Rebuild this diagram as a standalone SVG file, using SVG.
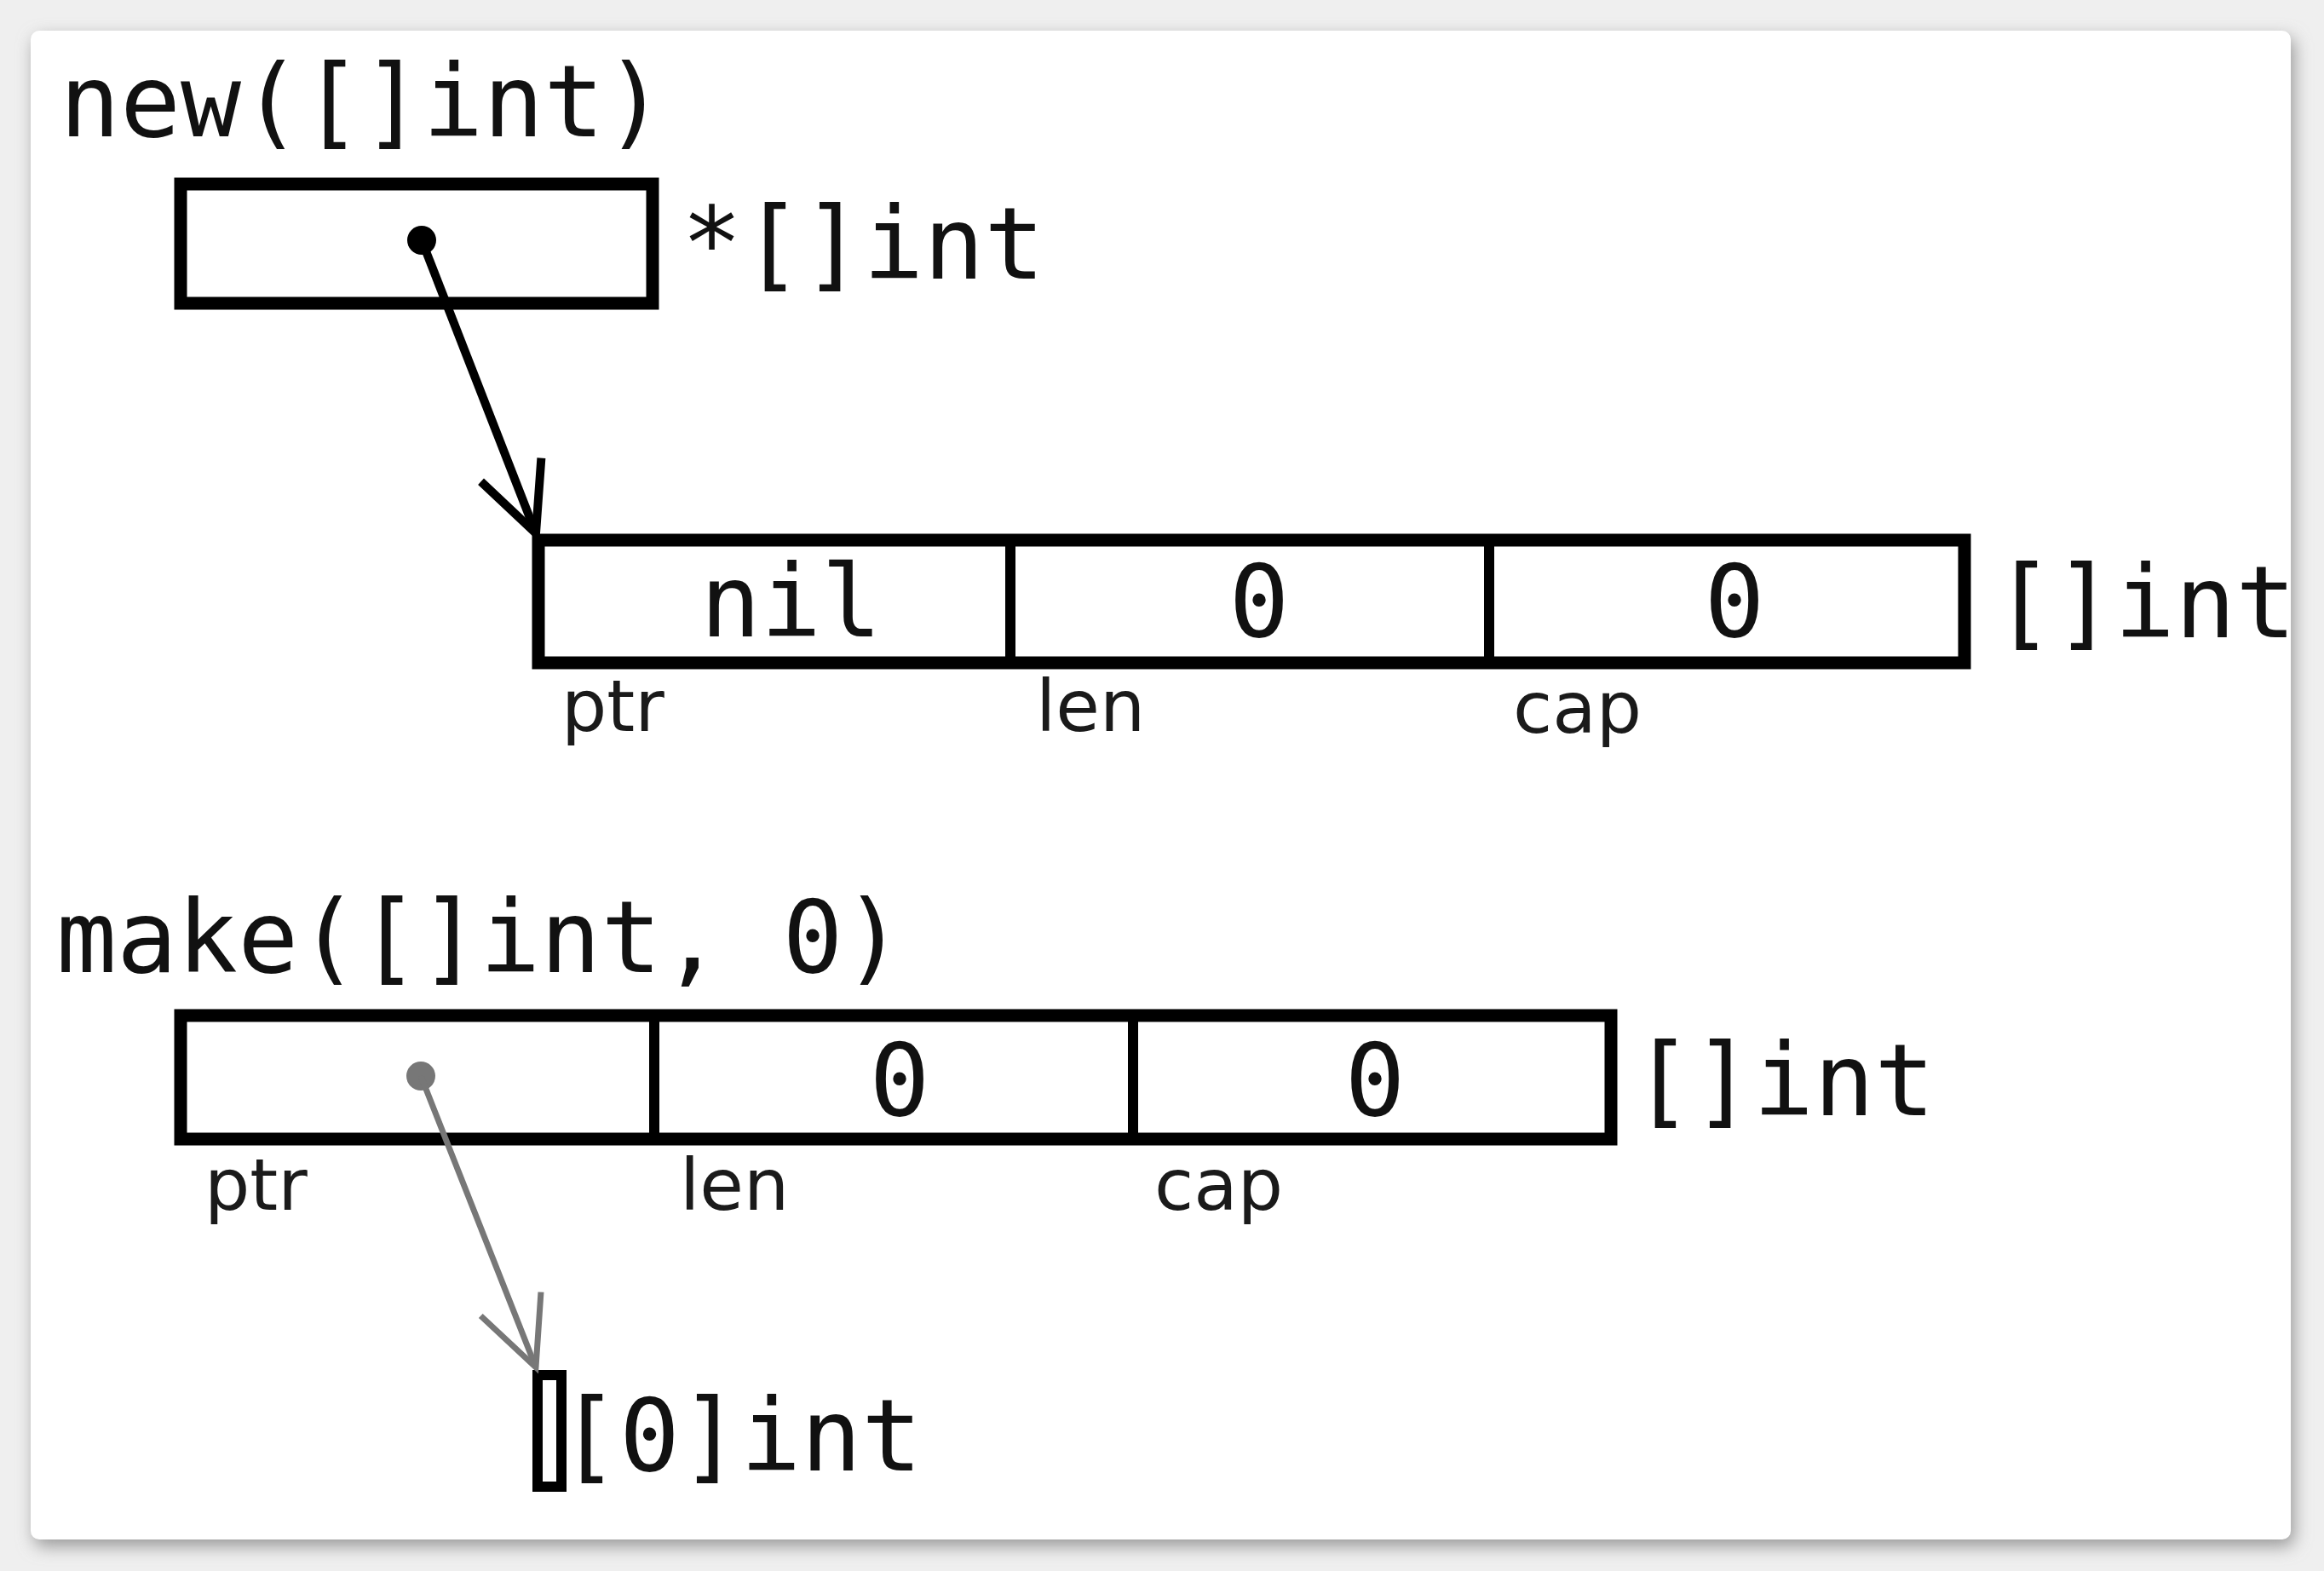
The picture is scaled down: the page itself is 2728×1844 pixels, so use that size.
<svg xmlns="http://www.w3.org/2000/svg" width="2728" height="1844" viewBox="0 0 2728 1844">
<style>
.code{font-family:"DejaVu Sans Mono","Liberation Mono",monospace;font-size:118px;fill:#111}
.lbl{font-family:"DejaVu Sans","Liberation Sans",sans-serif;font-size:84px;fill:#1a1a1a}
.box{fill:#fff;stroke:#000;stroke-width:15}
.div{stroke:#000;stroke-width:12}
</style>
<defs>
<filter id="sh" x="-5%" y="-5%" width="110%" height="110%">
<feGaussianBlur stdDeviation="10"/>
</filter>
<marker id="vb" markerUnits="userSpaceOnUse" markerWidth="200" markerHeight="200" viewBox="-100 -100 200 200" refX="0" refY="0" orient="auto" overflow="visible">
<path d="M-80,-38 L0,0 L-80,38" fill="none" stroke="#000" stroke-width="10"/>
</marker>
<marker id="vg" markerUnits="userSpaceOnUse" markerWidth="200" markerHeight="200" viewBox="-100 -100 200 200" refX="0" refY="0" orient="auto" overflow="visible">
<path d="M-80,-38 L0,0 L-80,38" fill="none" stroke="#777" stroke-width="7"/>
</marker>
</defs>
<rect x="0" y="0" width="2728" height="1844" fill="#efefef"/>
<rect x="40" y="44" width="2653" height="1771" rx="10" fill="#999" filter="url(#sh)"/>
<rect x="36" y="36" width="2653" height="1771" rx="10" fill="#fff"/>

<g id="title-new"><text class="code" x="70" y="160">new([]int)</text></g>

<g id="ptr-new">
<rect class="box" x="212" y="216" width="554" height="140"/>
<text class="code" x="800" y="327">*[]int</text>
</g>

<g id="slice-new">
<rect class="box" x="632" y="634" width="1674" height="144"/>
<line class="div" x1="1186" y1="634" x2="1186" y2="778"/>
<line class="div" x1="1748" y1="634" x2="1748" y2="778"/>
<text class="code" x="822" y="747">nil</text>
<text class="code" x="1478" y="747" text-anchor="middle">0</text>
<text class="code" x="2036" y="747" text-anchor="middle">0</text>
<text class="code" x="2340" y="748">[]int</text>
<text class="lbl" x="659" y="858">ptr</text>
<text class="lbl" x="1216" y="858">len</text>
<text class="lbl" x="1776" y="860">cap</text>
</g>

<g id="title-make"><text class="code" x="66" y="1141">make([]int, 0)</text></g>

<g id="slice-make">
<rect class="box" x="212" y="1192" width="1679" height="145"/>
<line class="div" x1="768" y1="1192" x2="768" y2="1337"/>
<line class="div" x1="1330" y1="1192" x2="1330" y2="1337"/>
<text class="code" x="1056" y="1309" text-anchor="middle">0</text>
<text class="code" x="1614" y="1309" text-anchor="middle">0</text>
<text class="code" x="1916" y="1309">[]int</text>
<text class="lbl" x="240" y="1420">ptr</text>
<text class="lbl" x="798" y="1420">len</text>
<text class="lbl" x="1355" y="1420">cap</text>
</g>

<g id="array-0">
<rect x="631" y="1614" width="28" height="131" fill="#fff" stroke="#000" stroke-width="12"/>
<text class="code" x="656" y="1726">[0]int</text>
</g>

<g id="connectors">
<circle cx="495" cy="282" r="17" fill="#000"/>
<line x1="495" y1="282" x2="629" y2="626" stroke="#000" stroke-width="10" marker-end="url(#vb)"/>
<circle cx="494" cy="1263" r="17" fill="#777"/>
<line x1="494" y1="1263" x2="629" y2="1605" stroke="#777" stroke-width="7" marker-end="url(#vg)"/>
</g>
</svg>
